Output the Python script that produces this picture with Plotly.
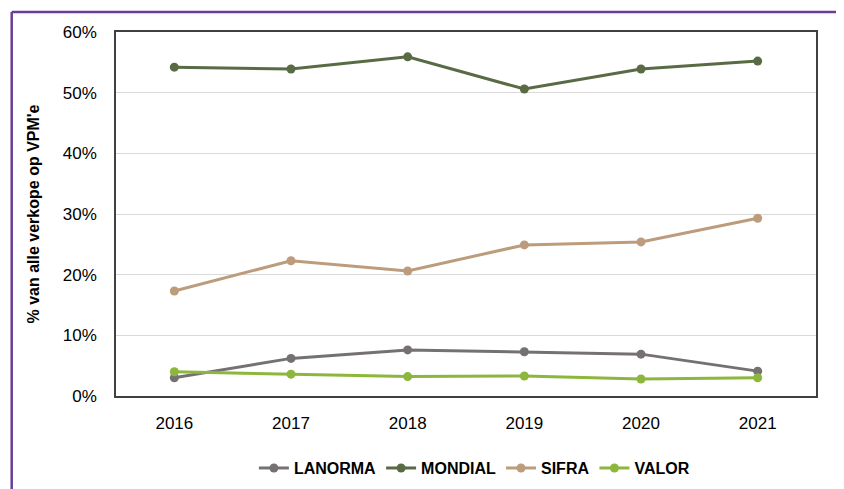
import plotly.graph_objects as go

years = ["2016", "2017", "2018", "2019", "2020", "2021"]
lanorma = [3.0, 6.2, 7.6, 7.3, 6.9, 4.1]
mondial = [54.2, 53.9, 55.9, 50.6, 53.9, 55.2]
sifra = [17.3, 22.3, 20.6, 24.9, 25.4, 29.3]
valor = [4.0, 3.6, 3.2, 3.3, 2.8, 3.0]

series = [
    ("LANORMA", lanorma, "#767171"),
    ("MONDIAL", mondial, "#586B45"),
    ("SIFRA", sifra, "#BC9C7C"),
    ("VALOR", valor, "#8DB63C"),
]

fig = go.Figure()
for name, vals, col in series:
    fig.add_trace(go.Scatter(
        x=years, y=[v / 100 for v in vals], name=name, mode="lines+markers",
        line=dict(color=col, width=3), marker=dict(color=col, size=9),
    ))

font = "Liberation Sans, Arial, sans-serif"
fig.update_layout(
    template="none",
    width=836, height=481,
    margin=dict(l=108, r=28, t=24, b=93, pad=0, autoexpand=False),
    plot_bgcolor="white", paper_bgcolor="white",
    font=dict(family=font, size=17, color="#000000"),
    showlegend=True,
    legend=dict(orientation="h", x=0.512, y=-0.198, xanchor="center", yanchor="middle",
                font=dict(size=16, family=font, weight="bold"), itemwidth=30,
                traceorder="normal"),
    xaxis=dict(type="category", range=[-0.5, 5.5], showgrid=False, automargin=False,
               showline=True, linecolor="#404040", linewidth=1.5, mirror=True,
               ticks="outside", ticklen=11, tickcolor="rgba(0,0,0,0)", tickfont=dict(size=17)),
    yaxis=dict(range=[0, 0.6], dtick=0.1, tickformat=".0%", showgrid=True, automargin=False,
               gridcolor="#D9D9D9", gridwidth=1, zeroline=False,
               showline=True, linecolor="#404040", linewidth=1.5, mirror=True,
               ticks="outside", ticklen=14, tickcolor="rgba(0,0,0,0)", tickfont=dict(size=17),
               title=dict(text="% van alle verkope op VPM'e", standoff=19,
                          font=dict(size=16, family=font, weight="bold"))),
    shapes=[
        dict(type="line", xref="paper", yref="paper", x0=-0.149, x1=1.1, y0=1.055, y1=1.055,
             line=dict(color="#6A3D9A", width=2.5)),
        dict(type="line", xref="paper", yref="paper", x0=-0.149, x1=-0.149, y0=1.055, y1=-0.3,
             line=dict(color="#6A3D9A", width=2.5)),
    ],
)

fig.write_html("out.html")
